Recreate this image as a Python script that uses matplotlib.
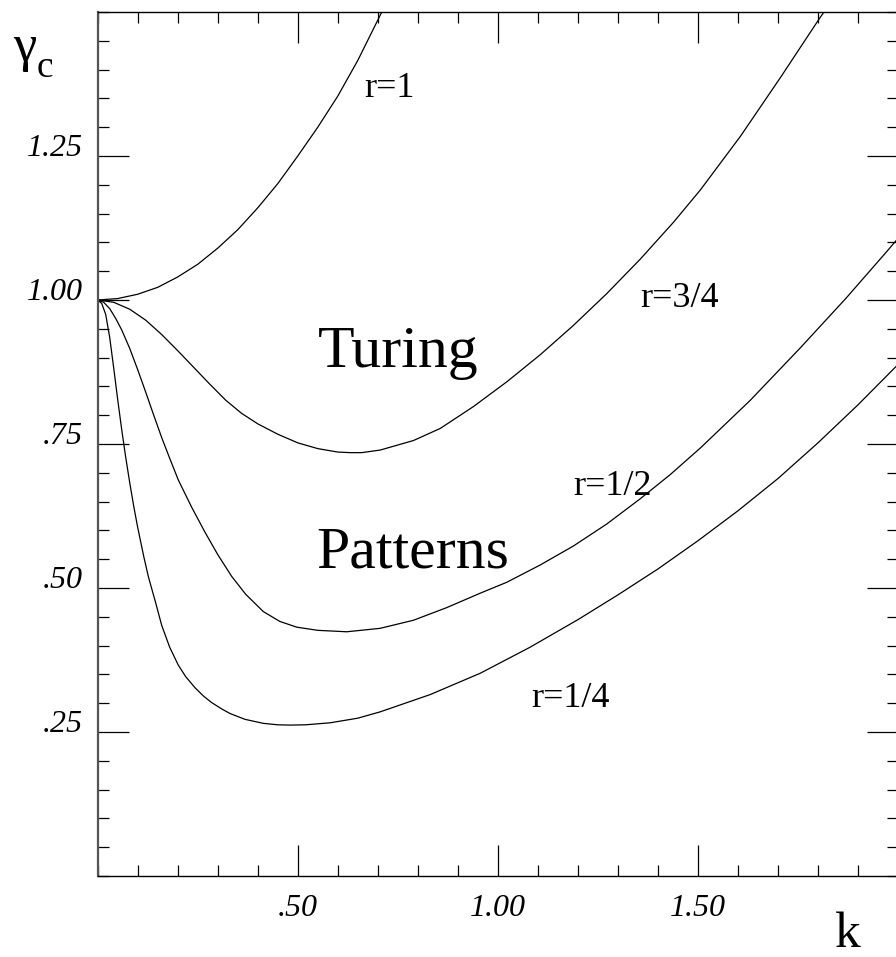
import matplotlib
matplotlib.use('Agg')
import matplotlib.pyplot as plt
from matplotlib.ticker import FixedLocator, MultipleLocator

plt.rcParams['font.family'] = ['Liberation Serif', 'DejaVu Serif']

# values
k_r1 = [0.0, 0.05, 0.10, 0.15, 0.20, 0.25, 0.30, 0.35, 0.40, 0.45, 0.50,
        0.55, 0.60, 0.65, 0.71]
g_r1 = [1.0, 1.0025, 1.010, 1.022, 1.040, 1.062, 1.090, 1.122, 1.160, 1.202, 1.250,
        1.300, 1.354, 1.416, 1.500]

k_r34 = [0.0, 0.04, 0.08, 0.12, 0.16, 0.20, 0.24, 0.28, 0.32, 0.36, 0.40, 0.45,
         0.50, 0.55, 0.60, 0.631, 0.66, 0.706, 0.789, 0.856, 0.939, 1.0225, 1.106,
         1.189, 1.272, 1.356, 1.439, 1.506, 1.606, 1.706, 1.803, 1.815]
g_r34 = [1.0, 0.996, 0.984, 0.965, 0.940, 0.912, 0.883, 0.854, 0.826, 0.803, 0.785, 0.767,
         0.752, 0.742, 0.736, 0.735, 0.735, 0.7395, 0.756, 0.777, 0.815, 0.858, 0.905,
         0.956, 1.011, 1.071, 1.135, 1.191, 1.284, 1.386, 1.488, 1.500]

k_r12 = [0.0, 0.015, 0.03, 0.045, 0.06, 0.08, 0.10, 0.12, 0.14, 0.16, 0.18, 0.2015,
         0.235, 0.268, 0.30, 0.335, 0.37, 0.414, 0.455, 0.4975, 0.55, 0.6225, 0.706,
         0.789, 0.8725, 0.956, 1.0225, 1.106, 1.189, 1.272, 1.356, 1.431, 1.506, 1.631,
         1.756, 1.87, 1.973, 2.0]
g_r12 = [1.0, 0.996, 0.985, 0.968, 0.948, 0.916, 0.879, 0.840, 0.800, 0.761, 0.725, 0.6875,
         0.640, 0.597, 0.558, 0.520, 0.489, 0.459, 0.442, 0.432, 0.4265, 0.424, 0.430,
         0.444, 0.466, 0.491, 0.510, 0.540, 0.573, 0.611, 0.655, 0.697, 0.743, 0.826,
         0.917, 1.003, 1.085, 1.107]

k_r14 = [0.0, 0.01, 0.02, 0.03, 0.04, 0.05, 0.06, 0.07, 0.08, 0.09, 0.10, 0.115,
         0.1265, 0.145, 0.16, 0.18, 0.2015, 0.22, 0.243, 0.265, 0.285, 0.31, 0.331,
         0.368, 0.414, 0.45, 0.481, 0.52, 0.581, 0.65, 0.706, 0.831, 0.956, 1.08, 1.20,
         1.30, 1.40, 1.50, 1.60, 1.70, 1.80, 1.90, 2.0]
g_r14 = [1.0, 0.994, 0.975, 0.935, 0.882, 0.827, 0.775, 0.727, 0.683, 0.642, 0.605, 0.555,
         0.520, 0.474, 0.435, 0.397, 0.366, 0.346, 0.327, 0.312, 0.301, 0.290, 0.282,
         0.272, 0.265, 0.2625, 0.262, 0.2625, 0.266, 0.274, 0.285, 0.315, 0.352, 0.397, 0.445,
         0.488, 0.533, 0.582, 0.634, 0.690, 0.752, 0.818, 0.888]

curve_labels = ['r=1', 'r=3/4', 'r=1/2', 'r=1/4']
label_k = [0.73, 1.453, 1.287, 1.181]
label_g = [1.352, 0.988, 0.661, 0.293]

xticks = [0.5, 1.0, 1.5]
xticklabels = ['.50', '1.00', '1.50']
yticks = [0.25, 0.5, 0.75, 1.0, 1.25]
yticklabels = ['.25', '.50', '.75', '1.00', '1.25']

W, H = 896, 957
fig = plt.figure(figsize=(W / 100, H / 100), dpi=100)
ax = fig.add_axes([97.7 / W, 1 - 876 / H, 800.3 / W, 864 / H])

for kk, gg in [(k_r1, g_r1), (k_r34, g_r34), (k_r12, g_r12), (k_r14, g_r14)]:
    ax.plot(kk, gg, color='black', lw=0.9)

ax.set_xlim(0, 2)
ax.set_ylim(0, 1.5)

ax.xaxis.set_major_locator(FixedLocator(xticks))
ax.xaxis.set_minor_locator(MultipleLocator(0.1))
ax.yaxis.set_major_locator(FixedLocator(yticks))
ax.yaxis.set_minor_locator(MultipleLocator(0.05))
ax.set_xticklabels(xticklabels)
ax.set_yticklabels(yticklabels)

ax.tick_params(which='both', direction='in', top=True, right=True, width=0.9, color='black')
ax.tick_params(which='major', length=22)
ax.tick_params(which='minor', length=8)
ax.tick_params(axis='x', which='major', pad=13, labelsize=23)
ax.tick_params(axis='y', which='major', pad=11, labelsize=23)
for lbl in ax.get_xticklabels() + ax.get_yticklabels():
    lbl.set_fontstyle('italic')
for lbl in ax.get_yticklabels():
    lbl.set_verticalalignment('baseline')

for sp in ax.spines.values():
    sp.set_linewidth(1.0)
ax.spines['left'].set_color('#555555')
ax.spines['left'].set_linewidth(1.6)

for txt, x, y in zip(curve_labels, label_k, label_g):
    ax.text(x, y, txt, fontsize=26, ha='center', va='baseline')

ax.text(0.751, 0.884, 'Turing', fontsize=43, ha='center', va='baseline')
ax.text(0.786, 0.535, 'Patterns', fontsize=43, ha='center', va='baseline')

fig.text(13 / W, 1 - 61 / H, 'γ', fontsize=38, ha='left', va='baseline')
fig.text(37 / W, 1 - 77 / H, 'c', fontsize=27, ha='left', va='baseline')
fig.text(835 / W, 1 - 947 / H, 'k', fontsize=37, ha='left', va='baseline')

fig.savefig('out.png', dpi=100)
